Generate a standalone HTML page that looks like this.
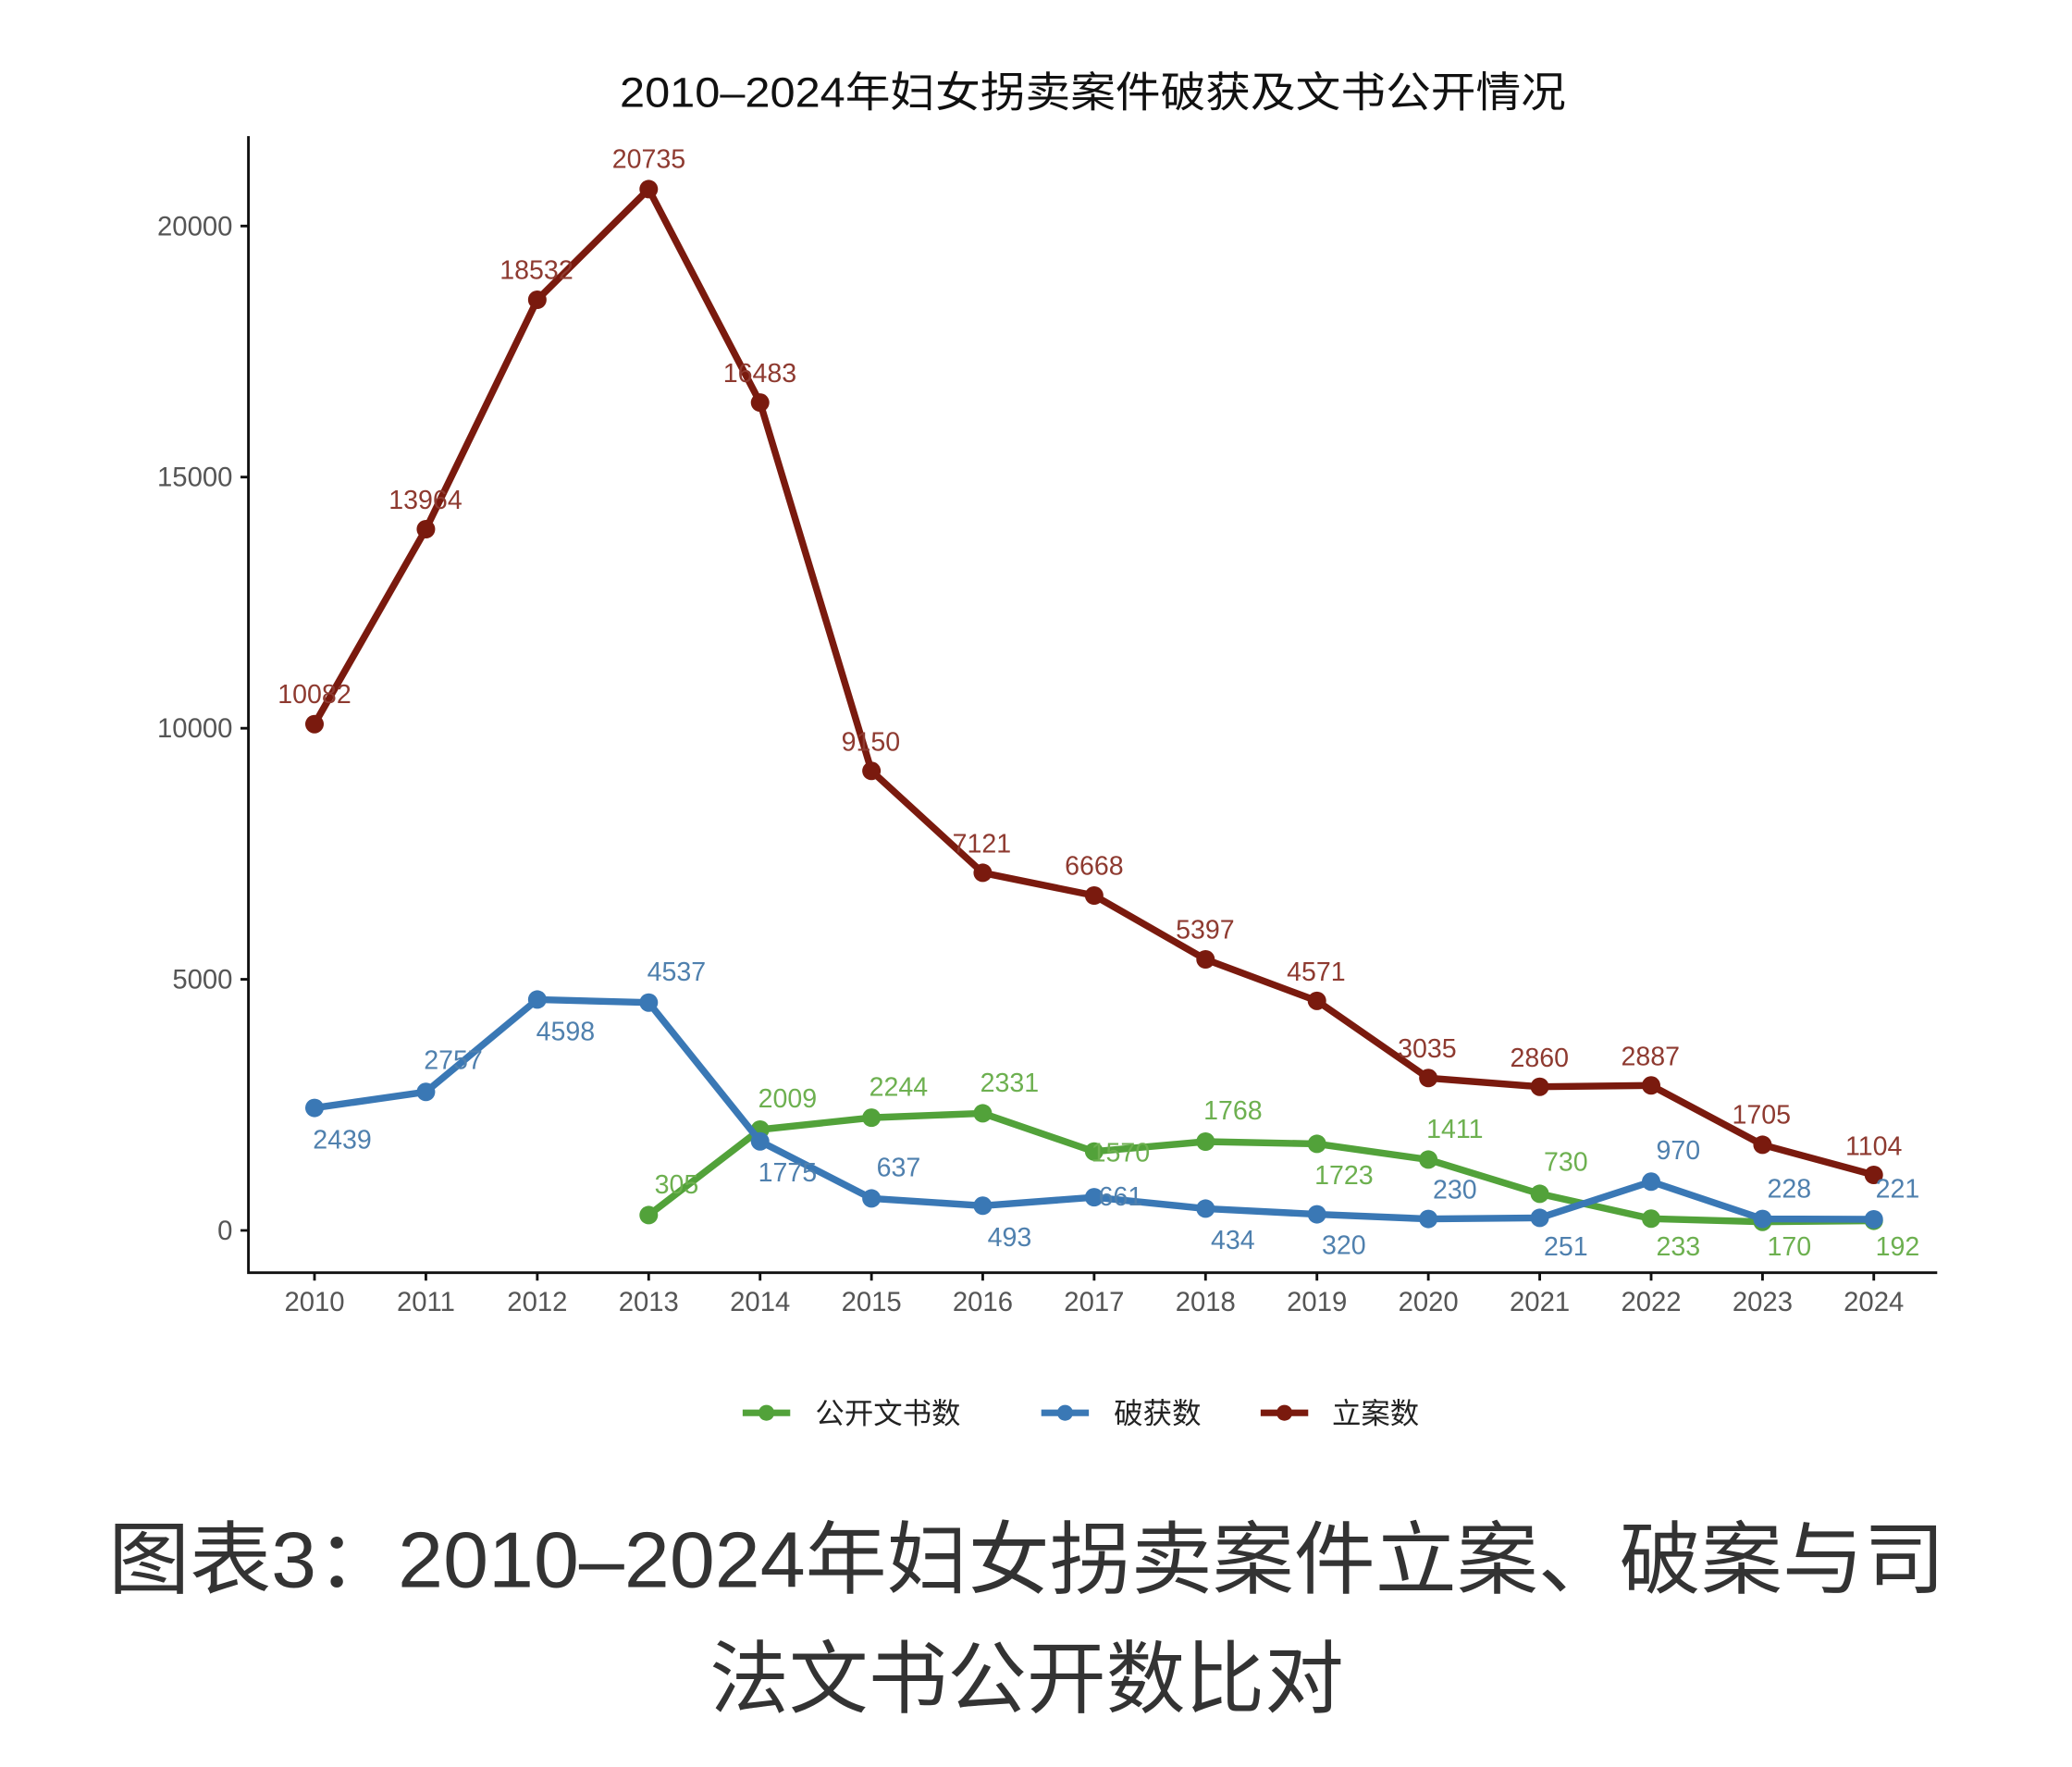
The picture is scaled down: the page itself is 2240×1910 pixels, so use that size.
<!DOCTYPE html>
<html><head><meta charset="utf-8"><style>
html,body{margin:0;padding:0;background:#fff;}
svg{display:block;}
text{font-family:"Liberation Sans","Noto Sans CJK SC",sans-serif;}
</style></head><body>
<svg width="2240" height="1910" viewBox="0 0 1568 1337" xmlns="http://www.w3.org/2000/svg">
<rect width="1568" height="1337" fill="#fff"/>
<text x="827" y="81" text-anchor="middle" font-size="32" fill="#111" font-family="Noto Sans CJK SC, sans-serif" textLength="716" lengthAdjust="spacingAndGlyphs">2010–2024年妇女拐卖案件破获及文书公开情况</text>
<!-- axes -->
<g stroke="#111" stroke-width="2" fill="none">
<path d="M188,103 V963 H1466"/>
<path d="M182,171 H188 M182,361 H188 M182,551 H188 M182,741 H188 M182,931 H188"/>
<path d="M238,963 v6 M322.3,963 v6 M406.6,963 v6 M490.9,963 v6 M575.2,963 v6 M659.5,963 v6 M743.7,963 v6 M828,963 v6 M912.3,963 v6 M996.6,963 v6 M1080.9,963 v6 M1165.2,963 v6 M1249.5,963 v6 M1333.8,963 v6 M1418,963 v6"/>
</g>
<g font-size="20.5" fill="#555" text-anchor="end">
<text x="176" y="178">20000</text><text x="176" y="368">15000</text><text x="176" y="558">10000</text><text x="176" y="748">5000</text><text x="176" y="938">0</text>
</g>
<g font-size="20.5" fill="#555" text-anchor="middle">
<text x="238" y="992">2010</text><text x="322.3" y="992">2011</text><text x="406.6" y="992">2012</text><text x="490.9" y="992">2013</text><text x="575.2" y="992">2014</text><text x="659.5" y="992">2015</text><text x="743.7" y="992">2016</text><text x="828" y="992">2017</text><text x="912.3" y="992">2018</text><text x="996.6" y="992">2019</text><text x="1080.9" y="992">2020</text><text x="1165.2" y="992">2021</text><text x="1249.5" y="992">2022</text><text x="1333.8" y="992">2023</text><text x="1418" y="992">2024</text>
</g>
<!-- green -->
<g stroke="#52A23A" fill="#52A23A">
<polyline fill="none" stroke-width="5.2" stroke-linejoin="round" points="490.9,919.4 575.2,854.7 659.5,845.7 743.7,842.4 828,871.3 912.3,863.8 996.6,865.5 1080.9,877.4 1165.2,903.3 1249.5,922.1 1333.8,924.5 1418,923.7"/>
<g stroke="none"><circle cx="490.9" cy="919.4" r="7"/><circle cx="575.2" cy="854.7" r="7"/><circle cx="659.5" cy="845.7" r="7"/><circle cx="743.7" cy="842.4" r="7"/><circle cx="828" cy="871.3" r="7"/><circle cx="912.3" cy="863.8" r="7"/><circle cx="996.6" cy="865.5" r="7"/><circle cx="1080.9" cy="877.4" r="7"/><circle cx="1165.2" cy="903.3" r="7"/><circle cx="1249.5" cy="922.1" r="7"/><circle cx="1333.8" cy="924.5" r="7"/><circle cx="1418" cy="923.7" r="7"/></g>
</g>
<!-- blue -->
<g stroke="#3A78B5" fill="#3A78B5">
<polyline fill="none" stroke-width="5.2" stroke-linejoin="round" points="238,838.3 322.3,826.2 406.6,756.3 490.9,758.6 575.2,863.6 659.5,906.8 743.7,912.3 828,905.9 912.3,914.5 996.6,918.8 1080.9,922.3 1165.2,921.5 1249.5,894.1 1333.8,922.3 1418,922.6"/>
<g stroke="none"><circle cx="238" cy="838.3" r="7"/><circle cx="322.3" cy="826.2" r="7"/><circle cx="406.6" cy="756.3" r="7"/><circle cx="490.9" cy="758.6" r="7"/><circle cx="575.2" cy="863.6" r="7"/><circle cx="659.5" cy="906.8" r="7"/><circle cx="743.7" cy="912.3" r="7"/><circle cx="828" cy="905.9" r="7"/><circle cx="912.3" cy="914.5" r="7"/><circle cx="996.6" cy="918.8" r="7"/><circle cx="1080.9" cy="922.3" r="7"/><circle cx="1165.2" cy="921.5" r="7"/><circle cx="1249.5" cy="894.1" r="7"/><circle cx="1333.8" cy="922.3" r="7"/><circle cx="1418" cy="922.6" r="7"/></g>
</g>
<!-- red -->
<g stroke="#7A1A0E" fill="#7A1A0E">
<polyline fill="none" stroke-width="5.2" stroke-linejoin="round" points="238,547.9 322.3,400.4 406.6,226.8 490.9,143.1 575.2,304.6 659.5,583.3 743.7,660.4 828,677.6 912.3,725.9 996.6,757.3 1080.9,815.7 1165.2,822.3 1249.5,821.3 1333.8,866.2 1418,889.0"/>
<g stroke="none"><circle cx="238" cy="547.9" r="7"/><circle cx="322.3" cy="400.4" r="7"/><circle cx="406.6" cy="226.8" r="7"/><circle cx="490.9" cy="143.1" r="7"/><circle cx="575.2" cy="304.6" r="7"/><circle cx="659.5" cy="583.3" r="7"/><circle cx="743.7" cy="660.4" r="7"/><circle cx="828" cy="677.6" r="7"/><circle cx="912.3" cy="725.9" r="7"/><circle cx="996.6" cy="757.3" r="7"/><circle cx="1080.9" cy="815.7" r="7"/><circle cx="1165.2" cy="822.3" r="7"/><circle cx="1249.5" cy="821.3" r="7"/><circle cx="1333.8" cy="866.2" r="7"/><circle cx="1418" cy="889.0" r="7"/></g>
</g>
<!-- labels -->
<g font-size="20" text-anchor="middle" fill="#8E3A30">
<text x="238" y="532">10082</text><text x="322" y="385">13964</text><text x="406" y="211">18532</text><text x="491" y="127">20735</text><text x="575" y="289">16483</text><text x="659" y="568">9150</text><text x="743" y="645">7121</text><text x="828" y="662">6668</text><text x="912" y="710">5397</text><text x="996" y="742">4571</text><text x="1080" y="800">3035</text><text x="1165" y="807">2860</text><text x="1249" y="806">2887</text><text x="1333" y="850">1705</text><text x="1418" y="874">1104</text>
</g>
<g font-size="20" text-anchor="middle" fill="#4F80AE">
<text x="259" y="869">2439</text><text x="343" y="809">2757</text><text x="428" y="787">4598</text><text x="512" y="742">4537</text><text x="596" y="894">1775</text><text x="680" y="890">637</text><text x="764" y="943">493</text><text x="848" y="912">661</text><text x="933" y="945">434</text><text x="1017" y="949">320</text><text x="1101" y="907">230</text><text x="1185" y="950">251</text><text x="1270" y="877">970</text><text x="1354" y="906">228</text><text x="1436" y="906">221</text>
</g>
<g font-size="20" text-anchor="middle" fill="#6DB050">
<text x="512" y="903">305</text><text x="596" y="838">2009</text><text x="680" y="829">2244</text><text x="764" y="826">2331</text><text x="848" y="879">1570</text><text x="933" y="847">1768</text><text x="1017" y="896">1723</text><text x="1101" y="861">1411</text><text x="1185" y="886">730</text><text x="1270" y="950">233</text><text x="1354" y="950">170</text><text x="1436" y="950">192</text>
</g>
<!-- legend -->
<g stroke-width="5">
<line x1="562" y1="1069" x2="598" y2="1069" stroke="#52A23A"/><circle cx="580" cy="1069" r="6" fill="#52A23A"/>
<line x1="788" y1="1069" x2="824" y2="1069" stroke="#3A78B5"/><circle cx="806" cy="1069" r="6" fill="#3A78B5"/>
<line x1="954" y1="1069" x2="990" y2="1069" stroke="#7A1A0E"/><circle cx="972" cy="1069" r="6" fill="#7A1A0E"/>
</g>
<g font-size="22" fill="#222" font-family="Noto Sans CJK SC, sans-serif">
<text x="617" y="1077">公开文书数</text><text x="843" y="1077">破获数</text><text x="1008" y="1077">立案数</text>
</g>
<g font-size="60" fill="#333" text-anchor="middle" font-family="Noto Sans CJK SC, sans-serif">
<text x="777" y="1201" textLength="1390" lengthAdjust="spacingAndGlyphs">图表3：2010–2024年妇女拐卖案件立案、破案与司</text>
<text x="777" y="1291">法文书公开数比对</text>
</g>
</svg>
</body></html>
